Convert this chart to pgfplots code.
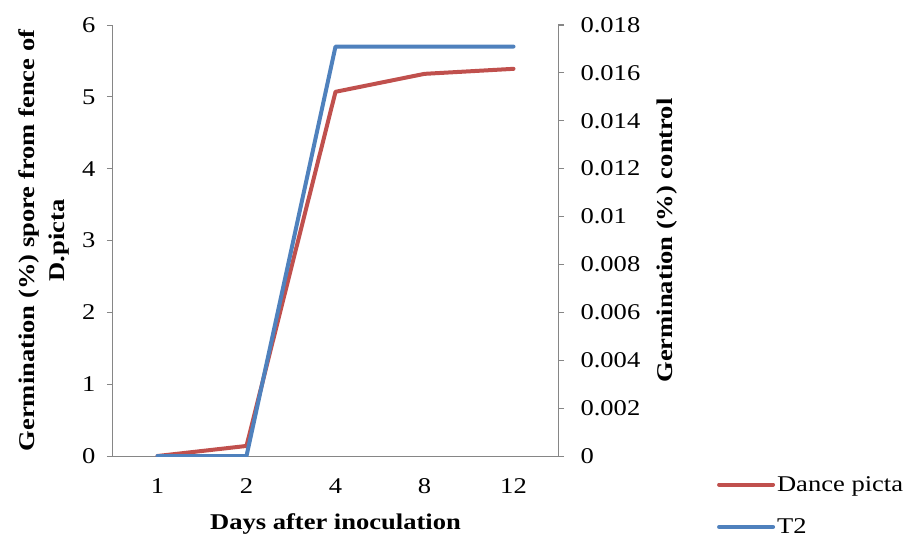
\documentclass[border=0pt]{standalone}
\usepackage{pgfplots}
\pgfplotsset{compat=1.18}
\usepackage{fontspec}
\setmainfont[FakeStretch=1.18]{Liberation Serif}
\definecolor{axgray}{HTML}{868686}
\definecolor{cred}{HTML}{C0504D}
\definecolor{cblue}{HTML}{4F81BD}
\begin{document}
\begin{tikzpicture}
\pgfplotsset{
  common/.style={
    width=445pt, height=431pt, scale only axis,
    xmin=-0.5, xmax=4.5,
    tick align=outside,
    axis line style={axgray, line width=1pt},
    major tick style={axgray, line width=1pt},
    minor tick style={axgray, line width=1pt},
    major tick length=6pt, minor tick length=8pt,
    tick label style={font=\fontsize{22.5}{26}\selectfont},
    label style={font=\fontsize{22.5}{30}\selectfont\bfseries},
    /pgf/number format/assume math mode=true,
  }
}
\begin{axis}[common,
  axis x line*=bottom, axis y line*=left,
  ymin=0, ymax=6, ytick={0,1,2,3,4,5,6},
  xtick={0,1,2,3,4}, xticklabels={1,2,4,8,12},
  minor xtick={-0.5,0.5,1.5,2.5,3.5,4.5},
  x tick style={draw=none},
  x tick label style={yshift=-13pt},
  xlabel={Days after inoculation},
  xlabel style={yshift=-13pt},
  ylabel={Germination (\%) spore from fence of\\D.picta},
  ylabel style={align=center, yshift=6pt},
  yticklabel style={xshift=-8pt},
]
\addplot[cred, line width=4pt, line cap=round, line join=round] coordinates {
  (0,0) (1,0.14) (2,5.07) (3,5.32) (4,5.39)};
\coordinate (ll) at (rel axis cs:0,0);
\end{axis}
\begin{axis}[common,
  axis x line=none, axis y line*=right,
  ymin=0, ymax=0.018, scaled y ticks=false,
  ytick={0,0.002,0.004,0.006,0.008,0.01,0.012,0.014,0.016,0.018},
  yticklabels={0,0.002,0.004,0.006,0.008,0.01,0.012,0.014,0.016,0.018},
  yticklabel style={xshift=13pt},
  ylabel={Germination (\%) control},
  ylabel style={yshift=-10pt},
  legend style={draw=none, fill=none, at={(rel axis cs:1.357,-0.042)}, anchor=north west,
    font=\fontsize{22.5}{26}\selectfont, row sep=22pt, inner sep=0pt,
    legend cell align=left},
  legend image code/.code={\draw[#1, line width=4pt, line cap=round] (0pt,0pt) -- (54pt,0pt);},
]
\addlegendimage{cred}
\addlegendentry{Dance picta}
\addplot[cblue, line width=4pt, line cap=round, line join=round] coordinates {
  (0,0) (1,0) (2,0.0171) (3,0.0171) (4,0.0171)};
\addlegendentry{T2}
\end{axis}
\pgfresetboundingbox
\path[use as bounding box] (ll) ++(-113pt,-83pt) rectangle ++(904pt,539pt);
\end{tikzpicture}
\end{document}
